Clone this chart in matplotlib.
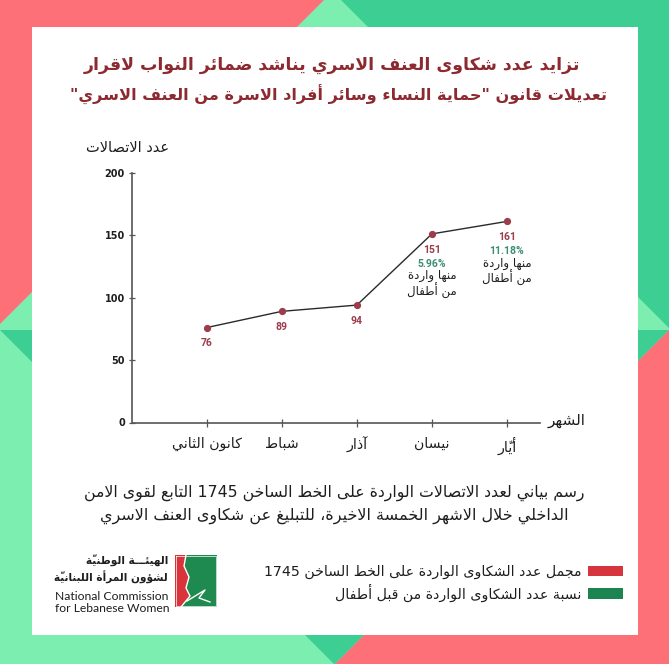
import matplotlib
matplotlib.use("Agg")
import matplotlib.pyplot as plt
from matplotlib.patches import Polygon, Rectangle, Patch

plt.rcParams['font.family'] = ['DejaVu Sans']

# ---------------- data ----------------
months = ["كانون الثاني", "شباط", "آذار", "نيسان", "أيّار"]
calls = [76, 89, 94, 151, 161]
child_pct = ["", "", "", "5.96%", "11.18%"]
child_note = ["منها واردة", "من أطفال"]
y_ticks = [0, 50, 100, 150, 200]
title_lines = ["تزايد عدد شكاوى العنف الاسري يناشد ضمائر النواب لاقرار",
               'تعديلات قانون "حماية النساء وسائر أفراد الاسرة من العنف الاسري"']
y_label = "عدد الاتصالات"
x_label = "الشهر"
caption_lines = ["رسم بياني لعدد الاتصالات الواردة على الخط الساخن 1745 التابع لقوى الامن",
                 "الداخلي خلال الاشهر الخمسة الاخيرة، للتبليغ عن شكاوى العنف الاسري"]
legend_labels = ["مجمل عدد الشكاوى الواردة على الخط الساخن 1745",
                 "نسبة عدد الشكاوى الواردة من قبل أطفال"]
logo_ar = ["الهيئـــة الوطنيّة", "لشؤون المرأة اللبنانيّة"]
logo_en = ["National Commission", "for Lebanese Women"]

# ---------------- minimal Arabic shaping + visual ordering ----------------
FOUR = {'ئ': 0xFE89, 'ب': 0xFE8F, 'ت': 0xFE95, 'ث': 0xFE99, 'ج': 0xFE9D, 'ح': 0xFEA1,
        'خ': 0xFEA5, 'س': 0xFEB1, 'ش': 0xFEB5, 'ص': 0xFEB9, 'ض': 0xFEBD, 'ط': 0xFEC1,
        'ظ': 0xFEC5, 'ع': 0xFEC9, 'غ': 0xFECD, 'ف': 0xFED1, 'ق': 0xFED5, 'ك': 0xFED9,
        'ل': 0xFEDD, 'م': 0xFEE1, 'ن': 0xFEE5, 'ه': 0xFEE9, 'ي': 0xFEF1}
TWO = {'آ': 0xFE81, 'أ': 0xFE83, 'ؤ': 0xFE85, 'إ': 0xFE87, 'ا': 0xFE8D, 'ة': 0xFE93,
       'د': 0xFEA9, 'ذ': 0xFEAB, 'ر': 0xFEAD, 'ز': 0xFEAF, 'و': 0xFEED, 'ى': 0xFEEF}
ONE = {'ء': 0xFE80}
LAMALEF = {'آ': 0xFEF5, 'أ': 0xFEF7, 'إ': 0xFEF9, 'ا': 0xFEFB}
TATWEEL = 'ـ'
MARKS = set('\u064B\u064C\u064D\u064E\u064F\u0650\u0651\u0652')


def _shape(s):
    toks = []
    i = 0
    while i < len(s):
        c = s[i]
        if c in MARKS and toks:
            toks[-1][2] += c
            i += 1
            continue
        if c == 'ل':
            j, m = i + 1, ''
            while j < len(s) and s[j] in MARKS:
                m += s[j]
                j += 1
            if j < len(s) and s[j] in LAMALEF:
                toks.append(['LA', s[j], m])
                i = j + 1
                continue
        toks.append(['C', c, ''])
        i += 1

    def jn_ok(t):
        return t[0] != 'LA' and (t[1] in FOUR or t[1] == TATWEEL)

    def jp_ok(t):
        return t[0] == 'LA' or t[1] in FOUR or t[1] in TWO or t[1] == TATWEEL

    out = []
    for k, t in enumerate(toks):
        prv = toks[k - 1] if k > 0 else None
        nxt = toks[k + 1] if k + 1 < len(toks) else None
        jp = prv is not None and jn_ok(prv) and jp_ok(t)
        jn = nxt is not None and jn_ok(t) and jp_ok(nxt)
        if t[0] == 'LA':
            g = chr(LAMALEF[t[1]] + (1 if jp else 0))
        elif t[1] in FOUR:
            g = chr(FOUR[t[1]] + (3 if (jp and jn) else 2 if jn else 1 if jp else 0))
        elif t[1] in TWO:
            g = chr(TWO[t[1]] + (1 if jp else 0))
        elif t[1] in ONE:
            g = chr(ONE[t[1]])
        else:
            g = t[1]
        out.append((g, t[2]))
    return out


def ar(s):
    runs = []
    for g, m in _shape(s):
        ltr = g.isascii() and (g.isalnum() or g in '.%')
        if runs and ltr and runs[-1][0]:
            runs[-1][1].append((g, m))
        else:
            runs.append([ltr, [(g, m)]])
    runs.reverse()
    # zero-width marks are placed before their base in the visual string
    return ''.join(m + g for _, cl in runs for g, m in cl)


# ---------------- colours ----------------
RED_BG = '#fd7078'
GREEN_BG = '#3dce94'
LIGHT_BG = '#7beeb0'
MAROON = '#9d3c4a'
TITLE_RED = '#8c2a30'
PCT_GREEN = '#3b8f70'
DARK = '#1e1e1e'
AXIS = '#555555'

W, H = 669, 664
fig = plt.figure(figsize=(W / 100, H / 100), dpi=100)
fig.patch.set_facecolor(LIGHT_BG)

bg = fig.add_axes([0, 0, 1, 1], zorder=0)
bg.set_xlim(0, W)
bg.set_ylim(H, 0)
bg.axis('off')

# background geometry
bg.add_patch(Polygon([(0, 0), (324, 0), (0, 324)], closed=True, fc=RED_BG, ec='none'))
bg.add_patch(Polygon([(341, 0), (W, 0), (W, 328)], closed=True, fc=GREEN_BG, ec='none'))
bg.add_patch(Polygon([(0, 330), (W, 330), (334.5, 664.5)], closed=True, fc=GREEN_BG, ec='none'))
bg.add_patch(Polygon([(W, 330), (W, H + 1), (334.5, 664.5)], closed=True, fc=RED_BG, ec='none'))
# white panel
bg.add_patch(Rectangle((32, 27), 606, 608, fc='white', ec='none'))

# ---------------- chart ----------------
x0, x1, yb, yt = 131.7, 540.0, 422.5, 172.7
ax = fig.add_axes([x0 / W, (H - yb) / H, (x1 - x0) / W, (yb - yt) / H], zorder=2)
ax.patch.set_alpha(0)
xs = list(range(len(months)))
ax.plot(xs, calls, color='#2a2a2a', lw=1.0, marker='o', ms=4.2,
        mfc=MAROON, mec=MAROON, zorder=3, clip_on=False)
ax.set_xlim(-1, 4.44)
ax.set_ylim(0, 200)
for sp in ['top', 'right']:
    ax.spines[sp].set_visible(False)
for sp in ['left', 'bottom']:
    ax.spines[sp].set_color(AXIS)
    ax.spines[sp].set_linewidth(1.2)
ax.set_yticks(y_ticks)
ax.set_yticklabels([str(v) for v in y_ticks])
ax.tick_params(axis='y', direction='inout', length=5, width=0.9, color=AXIS,
               labelsize=7, pad=2.5, labelcolor=DARK)
for lab in ax.get_yticklabels():
    lab.set_fontweight('bold')
ax.set_xticks(xs)
ax.set_xticklabels([ar(m) for m in months], fontsize=10.2, color=DARK)
ax.tick_params(axis='x', direction='inout', length=6, width=0.9, color=AXIS, pad=7)

ax.set_ylabel(ar(y_label), rotation=0, fontsize=10.5, color=DARK, ha='center', va='center')
ax.yaxis.set_label_coords(-0.01, 1.099)
ax.set_xlabel(ar(x_label), fontsize=11, color=DARK, ha='center', va='center')
ax.xaxis.set_label_coords(1.066, 0.008)

for i, v in enumerate(calls):
    ax.annotate(str(v), (i, v), xytext=(0, -11.3), textcoords='offset points',
                ha='center', va='center', color=MAROON, fontsize=7.5,
                fontweight='bold', family='Roboto')
    if child_pct[i]:
        ax.annotate(child_pct[i], (i, v), xytext=(0, -21.5), textcoords='offset points',
                    ha='center', va='center', color=PCT_GREEN, fontsize=7.5,
                    fontweight='bold', family='Roboto')
        for k, line in enumerate(child_note):
            ax.annotate(ar(line), (i, v), xytext=(0, -30 - 11 * k), textcoords='offset points',
                        ha='center', va='center', color=DARK, fontsize=8.5)

# ---------------- titles / captions ----------------
t1 = bg.text(332, 65, ar(title_lines[0]), ha='center', va='center', fontsize=15,
             fontweight='bold', color=TITLE_RED)
t2 = bg.text(338, 95, ar(title_lines[1]), ha='center', va='center', fontsize=15,
             fontweight='bold', color=TITLE_RED)
c1 = bg.text(334.5, 493, ar(caption_lines[0]), ha='center', va='center', fontsize=11,
             color=DARK)
c2 = bg.text(334.5, 516, ar(caption_lines[1]), ha='center', va='center', fontsize=11,
             color=DARK)

fig.canvas.draw()
rend = fig.canvas.get_renderer()
for t, wpx in [(t1, 497), (t2, 536), (c1, 499), (c2, 465)]:
    bb = t.get_window_extent(rend)
    t.set_fontsize(t.get_fontsize() * wpx / bb.width)

# ---------------- legend ----------------
handles = [Patch(fc='#d7353d', ec='none'), Patch(fc='#1c8451', ec='none')]
leg = bg.legend(handles, [ar(s) for s in legend_labels], markerfirst=False, frameon=False,
                loc='upper right', bbox_to_anchor=(623 / W, 1 - 565 / H),
                bbox_transform=fig.transFigure, fontsize=10.2, handlelength=2.45,
                handleheight=0.75, handletextpad=0.5, labelspacing=0.3,
                borderpad=0, borderaxespad=0)
for txt in leg.get_texts():
    txt.set_color(DARK)

# ---------------- logo ----------------
bg.add_patch(Rectangle((175, 555), 42, 52, fc='#1f8a4f', ec='none'))
red_pts = [(175, 555), (186, 555), (184, 566), (189, 577), (186, 588), (190, 596),
           (181, 607), (175, 607)]
bg.add_patch(Polygon(red_pts, closed=True, fc='#d9343c', ec='none'))
bx = [p[0] for p in red_pts[1:7]]
by = [p[1] for p in red_pts[1:7]]
bg.plot(bx, by, color='white', lw=1.0)
bg.plot([187, 205, 199, 210], [601, 590, 598, 602], color='white', lw=1.0)
bg.plot([176, 176, 216, 216, 176], [556, 606, 606, 556, 556], color='white', lw=0.5)

bg.text(168, 560, ar(logo_ar[0]), ha='right', va='center', fontsize=7.6,
        fontweight='bold', color=DARK)
bg.text(168, 577, ar(logo_ar[1]), ha='right', va='center', fontsize=7.6,
        fontweight='bold', color=DARK)
bg.text(55, 596, logo_en[0], ha='left', va='center', fontsize=8.7, family='Lato',
        color=DARK)
bg.text(55, 609, logo_en[1], ha='left', va='center', fontsize=8.7, family='Lato',
        color=DARK)

fig.savefig('out.png', dpi=100, facecolor=fig.get_facecolor())
